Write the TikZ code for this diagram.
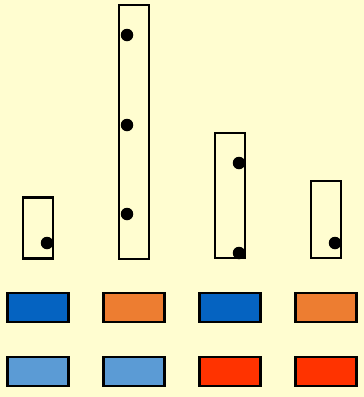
\documentclass[tikz,border=0pt]{standalone}
\begin{document}
\begin{tikzpicture}[x=1pt,y=-1pt,
  bar/.style={draw=black,line width=2.8pt,fill=none,inner sep=0pt,minimum width=30pt},
  tile/.style={draw=black,line width=2.8pt,inner sep=0pt,minimum width=61pt,minimum height=29pt},
  dot/.style={circle,fill=black,inner sep=0pt,minimum size=12.5pt}]
\definecolor{bg}{RGB}{255,253,208}
\definecolor{dblue}{RGB}{5,99,193}
\definecolor{lblue}{RGB}{91,155,213}
\definecolor{orng}{RGB}{237,125,49}
\definecolor{redo}{RGB}{255,51,0}
\fill[bg] (0,0) rectangle (364,397);
\useasboundingbox (0,0) rectangle (364,397);
% columns
\node[bar,minimum height=61pt] (b1) at (38,228) {};
\node[bar,minimum height=254pt] (b2) at (134,132) {};
\node[bar,minimum height=125pt] (b3) at (230,195.5) {};
\node[bar,minimum height=77pt] (b4) at (326,219.5) {};
% dots
\node[dot] (d1) at (47,243) {};
\node[dot] (d2) at (127,35) {};
\node[dot] (d3) at (127,125) {};
\node[dot] (d4) at (127,214) {};
\node[dot] (d5) at (239,163) {};
\node[dot] (d6) at (239,253) {};
\node[dot] (d7) at (335,243) {};
% tiles
\node[tile,fill=dblue] (t1) at (38,307.5) {};
\node[tile,fill=orng] (t2) at (134,307.5) {};
\node[tile,fill=dblue] (t3) at (230,307.5) {};
\node[tile,fill=orng] (t4) at (326,307.5) {};
\node[tile,fill=lblue] (u1) at (38,371.5) {};
\node[tile,fill=lblue] (u2) at (134,371.5) {};
\node[tile,fill=redo] (u3) at (230,371.5) {};
\node[tile,fill=redo] (u4) at (326,371.5) {};
\end{tikzpicture}
\end{document}
